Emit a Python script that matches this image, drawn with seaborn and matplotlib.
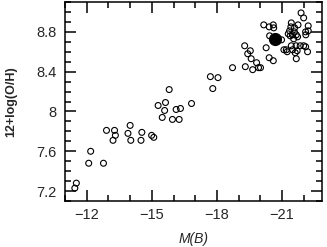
import matplotlib
matplotlib.use("Agg")
import matplotlib.pyplot as plt
import seaborn as sns
import pandas as pd
from matplotlib.ticker import MultipleLocator

# absolute B magnitude and oxygen abundance
mb = [-11.45, -11.52, -12.18, -12.09, -12.77, -12.91, -13.28, -13.32, -13.21, -14.00,
      -13.90, -14.03, -14.54, -14.50, -14.99, -15.09, -15.29, -15.63, -15.59, -15.48,
      -15.80, -16.12, -16.32, -15.95, -16.26, -16.83, -17.70, -18.05, -17.81, -18.72,
      -19.28, -19.54, -19.42, -19.58, -19.31, -19.65, -19.83, -19.92, -20.01, -20.16,
      -20.41, -20.60, -20.62, -20.43, -20.98, -20.27, -20.41, -20.60, -21.88, -22.00,
      -21.43, -21.74, -21.41, -21.58, -22.21, -21.35, -21.57, -21.29, -21.48, -21.66,
      -21.38, -21.54, -21.72, -22.09, -22.21, -22.10, -21.43, -21.20, -21.65, -21.84,
      -22.00, -22.09, -21.09, -21.24, -21.49, -21.70, -21.61, -22.18, -21.66]
oh = [7.23, 7.28, 7.60, 7.48, 7.48, 7.81, 7.81, 7.76, 7.71, 7.86,
      7.78, 7.71, 7.79, 7.71, 7.76, 7.74, 8.06, 8.09, 8.01, 7.94,
      8.22, 8.02, 8.03, 7.92, 7.92, 8.08, 8.35, 8.34, 8.23, 8.44,
      8.66, 8.61, 8.58, 8.53, 8.45, 8.42, 8.49, 8.44, 8.44, 8.87,
      8.85, 8.87, 8.84, 8.76, 8.72, 8.64, 8.54, 8.51, 8.99, 8.94,
      8.89, 8.87, 8.85, 8.84, 8.86, 8.81, 8.80, 8.78, 8.77, 8.77,
      8.76, 8.73, 8.75, 8.80, 8.81, 8.77, 8.66, 8.62, 8.66, 8.66,
      8.66, 8.65, 8.62, 8.60, 8.62, 8.61, 8.59, 8.60, 8.53]

# the single highlighted object
mb_special = [-20.68]
oh_special = [8.73]

df = pd.DataFrame({"mb": mb, "oh": oh})
df_special = pd.DataFrame({"mb": mb_special, "oh": oh_special})

sns.set_style("ticks")
plt.rcParams["font.family"] = ["Liberation Sans", "DejaVu Sans"]
plt.rcParams["axes.unicode_minus"] = True

fig = plt.figure(figsize=(3.27, 2.47), dpi=100)
ax = fig.add_axes([0.199, 0.186, 0.786, 0.806])

sns.scatterplot(data=df, x="mb", y="oh", ax=ax, marker="o", s=18,
                facecolor="none", edgecolor="black", linewidth=0.8)
sns.scatterplot(data=df_special, x="mb", y="oh", ax=ax, marker="o", s=75,
                color="black", edgecolor="black", linewidth=0.8, zorder=5)

ax.set_xlim(-11.0, -22.85)
ax.set_ylim(7.1, 9.1)
ax.set_xticks([-12, -15, -18, -21])
ax.set_yticks([7.2, 7.6, 8.0, 8.4, 8.8])
ax.set_yticklabels(["7.2", "7.6", "8", "8.4", "8.8"])
ax.xaxis.set_minor_locator(MultipleLocator(1))
ax.yaxis.set_minor_locator(MultipleLocator(0.1))
ax.tick_params(which="both", direction="in", top=True, right=True, color="black", width=1.1)
ax.tick_params(which="major", length=8, labelsize=10.5, pad=6)
ax.tick_params(axis="x", which="major", pad=5)
ax.tick_params(which="minor", length=4.5)
for sp in ax.spines.values():
    sp.set_linewidth(1.1)
    sp.set_color("black")

ax.set_xlabel("M(B)", fontsize=10, style="italic", labelpad=7)
ax.set_ylabel("12+log(O/H)", fontsize=9, fontweight="bold", labelpad=14)

fig.savefig("out.png", dpi=100)
